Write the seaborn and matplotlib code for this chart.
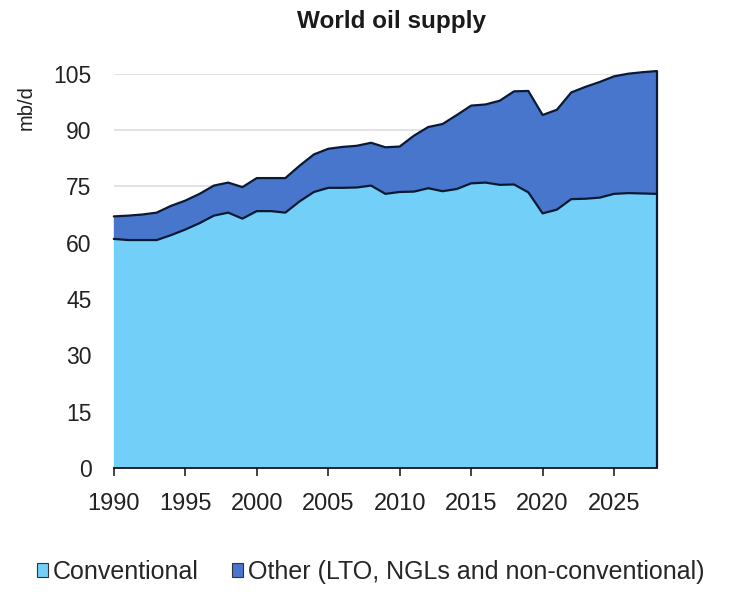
import numpy as np
import pandas as pd
import seaborn as sns
import matplotlib
matplotlib.use('Agg')
import matplotlib.pyplot as plt
from matplotlib.patches import Patch

sns.set_theme(style="white")
plt.rcParams['font.family'] = ['Liberation Sans', 'DejaVu Sans']

# World oil supply, mb/d
years = list(range(1990, 2029))
conventional = [61.0, 60.7, 60.7, 60.7, 62.0, 63.5, 65.2, 67.2, 68.0, 66.4,
                68.4, 68.4, 68.0, 71.0, 73.5, 74.6, 74.6, 74.7, 75.2, 73.0,
                73.5, 73.6, 74.5, 73.7, 74.3, 75.8, 76.0, 75.4, 75.5, 73.4,
                67.8, 68.8, 71.6, 71.7, 72.0, 73.0, 73.2, 73.1, 73.0]
other = [6.0, 6.5, 6.8, 7.3, 7.8, 7.7, 7.8, 8.0, 8.0, 8.4,
         8.8, 8.8, 9.2, 9.5, 10.0, 10.4, 10.9, 11.1, 11.4, 12.4,
         12.1, 14.9, 16.3, 17.9, 19.7, 20.7, 20.8, 22.4, 24.8, 27.0,
         26.2, 26.6, 28.4, 29.8, 30.8, 31.3, 31.8, 32.3, 32.7]
labels = ['Conventional', 'Other (LTO, NGLs and non-conventional)']
colors = ['#72CFF8', '#4876CD']
yticks = [0, 15, 30, 45, 60, 75, 90, 105]
xticks = [1990, 1995, 2000, 2005, 2010, 2015, 2020, 2025]

df = pd.DataFrame({'year': years, 'conventional': conventional, 'other': other})
df['total'] = df['conventional'] + df['other']

fig = plt.figure(figsize=(7.39, 6.02), dpi=100)
ax = fig.add_axes([0.154, 0.2226, 0.735, 0.655])

polys = ax.stackplot(df['year'], df['conventional'], df['other'], colors=colors,
                     edgecolor='none', zorder=2)
sns.lineplot(data=df, x='year', y='conventional', color='#0B1A33', lw=1.6, ax=ax, zorder=3)
sns.lineplot(data=df, x='year', y='total', color='#0B1A33', lw=1.6, ax=ax, zorder=3)
ax.vlines(years[-1], 0, df['total'].iloc[-1], color='#0B1A33', lw=1.6, zorder=3)
# total slightly exceeds 105 at the end, keep it visible
for ln in ax.lines:
    ln.set_clip_on(False)
for c in ax.collections:
    c.set_clip_on(False)

ax.set_xlim(1990, 2028)
ax.set_ylim(0, 105)
ax.set_yticks(yticks)
ax.set_xticks(xticks)
ax.tick_params(axis='x', labelsize=17, length=6, width=1.2, direction='out',
               bottom=True, colors='#222222', pad=12)
ax.tick_params(axis='y', labelsize=16.5, length=0, colors='#222222', pad=16)
ax.yaxis.grid(True, color='#DDDDDD', lw=1.2, zorder=0)
ax.set_axisbelow(True)
for s in ['left', 'right', 'top']:
    ax.spines[s].set_visible(False)
ax.spines['bottom'].set_color('#111111')
ax.spines['bottom'].set_linewidth(1.3)
ax.set_xlabel('')
ax.set_ylabel('')

fig.text(0.530, 0.965, 'World oil supply', ha='center', va='center',
         fontsize=17.5, fontweight='bold', color='#1A1A1A')
fig.text(0.036, 0.822, 'mb/d', rotation=90, ha='center', va='center',
         fontsize=14.5, color='#222222')

handles = [Patch(facecolor=c, edgecolor='#333333', lw=0.8) for c in colors]
fig.legend(handles, labels, loc='center left', bbox_to_anchor=(0.05, 0.05),
           ncol=2, frameon=False, fontsize=18, handlelength=0.45,
           handleheight=0.45, handletextpad=0.2, columnspacing=1.3,
           borderaxespad=0, borderpad=0)

plt.savefig('out.png', dpi=100)
plt.close(fig)
